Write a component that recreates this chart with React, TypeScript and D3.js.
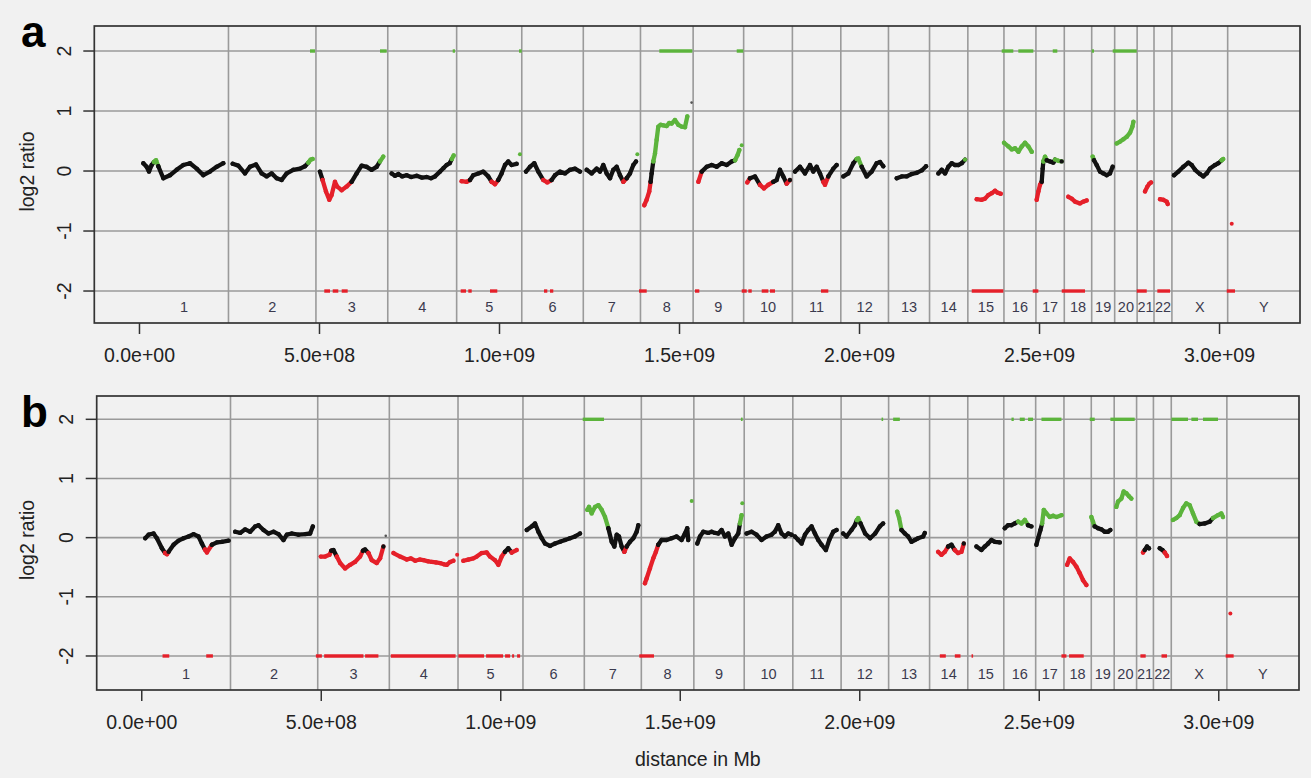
import React from 'react';
import * as d3 from 'd3';

type Pt = [number, number, string];
type Dot = [string, number, number, string];

// ---------- data ----------
const chrNames = ['1','2','3','4','5','6','7','8','9','10','11','12','13','14','15','16','17','18','19','20','21','22','X','Y'];
const chrLengths = [247.2,242.95,199.5,191.3,180.9,170.9,158.8,146.3,140.3,135.4,134.5,132.35,114.1,106.4,100.3,88.8,78.8,76.1,63.8,62.4,46.9,49.7,154.9,57.8];
const xTicks = [0, 500, 1000, 1500, 2000, 2500, 3000];
const yTicks = [-2, -1, 0, 1, 2];

// profile points: [Mb from chromosome start, log2 ratio, call k/r/g]
const profileA: Record<string, Pt[]> = {
  '1': [[10.6,0.13,'k'],[19.9,0.07,'k'],[26.4,-0.01,'k'],[33.8,0.1,'k'],[40,0.15,'g'],[46,0.18,'g'],[52.3,0.08,'k'],[66.2,-0.12,'k'],[84.7,-0.07,'k'],[103.2,0.02,'k'],[121.8,0.1,'k'],[140.3,0.13,'k'],[158.8,0.04,'k'],[177.3,-0.07,'k'],[195.8,-0.01,'k'],[214.4,0.07,'k'],[232.9,0.13,'k']],
  '2': [[11.6,0.12,'k'],[27.3,0.09,'k'],[45.8,-0.04,'k'],[59.7,0.07,'k'],[76.4,0.11,'k'],[92.1,-0.04,'k'],[106,-0.09,'k'],[119.9,-0.04,'k'],[133.8,-0.12,'k'],[147.7,-0.15,'k'],[161.6,-0.04,'k'],[180.1,0.02,'k'],[198.6,0.04,'k'],[212.5,0.08,'k'],[221.8,0.14,'g'],[228.2,0.19,'g'],[233.8,0.2,'g']],
  '3': [[11.1,-0.01,'k'],[18.5,-0.15,'r'],[27.8,-0.34,'r'],[37,-0.48,'r'],[43.5,-0.4,'r'],[52.8,-0.18,'r'],[59.3,-0.26,'r'],[71.3,-0.32,'r'],[85.2,-0.26,'r'],[99.1,-0.18,'k'],[113,-0.04,'k'],[126.9,0.09,'k'],[140.7,0.07,'k'],[154.6,0.02,'k'],[168.5,0.07,'k'],[177.8,0.16,'g'],[187,0.24,'g']],
  '4': [[10.7,-0.04,'k'],[20,-0.08,'k'],[29.3,-0.05,'k'],[40,-0.09,'k'],[52.4,-0.07,'k'],[65,-0.1,'k'],[80.2,-0.08,'k'],[95,-0.11,'k'],[107.9,-0.1,'k'],[120,-0.12,'k'],[131.1,-0.09,'k'],[145,-0.01,'k'],[155,0.05,'k'],[163.5,0.1,'k'],[172,0.13,'k'],[178,0.2,'g'],[183,0.26,'g']],
  '5': [[13.8,-0.17,'r'],[27.7,-0.18,'r'],[37,-0.15,'k'],[46.2,-0.07,'k'],[60.1,-0.04,'k'],[74,-0.01,'k'],[87.9,-0.09,'k'],[97.1,-0.18,'r'],[106.4,-0.22,'r'],[115.6,-0.15,'k'],[124.9,-0.04,'k'],[134.2,0.1,'k'],[143.4,0.16,'k'],[152.7,0.1,'k'],[166.6,0.12,'k']],
  '6': [[11.7,-0.01,'k'],[22.8,0.07,'k'],[34.8,0.13,'k'],[45.9,-0.01,'k'],[59.8,-0.15,'r'],[70.9,-0.19,'r'],[82.9,-0.15,'k'],[92.2,-0.07,'k'],[106.1,-0.01,'k'],[120,-0.04,'k'],[133.9,0.02,'k'],[147.8,0.04,'k'],[161.7,-0.01,'k']],
  '7': [[9.4,0.02,'k'],[23.2,-0.04,'k'],[37.1,0.04,'k'],[46.4,-0.01,'k'],[55.6,0.1,'k'],[64.9,-0.04,'k'],[74.2,-0.12,'k'],[83.4,0.02,'k'],[92.7,0.07,'k'],[102,-0.07,'k'],[111.2,-0.18,'r'],[120.5,-0.12,'k'],[129.7,-0.04,'k'],[139,0.1,'k'],[146.4,0.16,'k']],
  '8': [[10.6,-0.57,'r'],[17.1,-0.48,'r'],[24.5,-0.34,'r'],[28.2,-0.18,'k'],[31,-0.04,'k'],[35.6,0.16,'g'],[40.3,0.29,'g'],[44.9,0.52,'g'],[49.5,0.74,'g'],[56,0.77,'g'],[64,0.76,'g'],[72.7,0.75,'g'],[80,0.8,'g'],[86.6,0.79,'g'],[95.8,0.85,'g'],[105.1,0.77,'g'],[114.4,0.74,'g'],[123.6,0.73,'g'],[130.1,0.91,'g']],
  '9': [[14.5,-0.18,'r'],[23.8,-0.01,'k'],[37.7,0.07,'k'],[51.6,0.1,'k'],[65.5,0.07,'k'],[79.4,0.13,'k'],[93.2,0.1,'k'],[107.1,0.16,'k'],[116.4,0.18,'g'],[123.8,0.27,'g'],[128.4,0.35,'g']],
  '10': [[10.1,-0.19,'r'],[17.5,-0.12,'k'],[31.4,-0.09,'k'],[45.3,-0.23,'r'],[56.4,-0.29,'r'],[68.4,-0.23,'r'],[82.3,-0.18,'k'],[91.6,-0.15,'k'],[100.8,0.02,'k'],[110.1,-0.09,'k'],[119.4,-0.21,'r'],[128.6,-0.15,'k']],
  '11': [[7.2,-0.01,'k'],[21.1,0.07,'k'],[35,-0.04,'k'],[48.9,0.1,'k'],[58.1,-0.01,'k'],[67.4,0.07,'k'],[76.7,-0.04,'k'],[85.9,-0.18,'r'],[90.6,-0.23,'r'],[99.8,-0.09,'k'],[113.7,0.04,'k'],[123,0.1,'k']],
  '12': [[7,-0.09,'k'],[20.9,-0.04,'k'],[34.8,0.13,'k'],[44,0.2,'g'],[48.7,0.21,'g'],[57.9,0.07,'k'],[71.8,-0.09,'k'],[85.7,-0.01,'k'],[99.6,0.13,'k'],[109,0.15,'k'],[118,0.08,'k']],
  '13': [[22.9,-0.12,'k'],[36.9,-0.09,'k'],[50.7,-0.09,'k'],[64.6,-0.05,'k'],[78.5,-0.03,'k'],[92.4,0.01,'k'],[104.4,0.08,'k']],
  '14': [[24.5,-0.04,'k'],[33.8,0.02,'k'],[43.1,-0.04,'k'],[52.3,0.07,'k'],[61.6,0.13,'k'],[70.8,0.1,'k'],[80.1,0.1,'k'],[89.4,0.13,'k'],[98.6,0.19,'g']],
  '15': [[24.6,-0.47,'r'],[38.5,-0.48,'r'],[47.8,-0.46,'r'],[57,-0.4,'r'],[66.3,-0.37,'r'],[75.6,-0.33,'r'],[82.1,-0.36,'r'],[91.3,-0.38,'r']],
  '16': [[0.3,0.47,'g'],[12.3,0.41,'g'],[21.6,0.36,'g'],[30.8,0.38,'g'],[40.1,0.32,'g'],[49.4,0.41,'g'],[58.6,0.47,'g'],[67.9,0.41,'g'],[77.1,0.32,'g']],
  '17': [[2.1,-0.48,'r'],[6.8,-0.34,'r'],[11.4,-0.23,'r'],[16,-0.18,'k'],[18.8,0.04,'k'],[20.6,0.16,'g'],[25.3,0.24,'g'],[29.9,0.18,'k'],[39.1,0.16,'k'],[48.4,0.14,'k'],[53.1,0.19,'g'],[62.3,0.17,'g'],[71.6,0.16,'k']],
  '18': [[11.2,-0.43,'r'],[20.5,-0.46,'r'],[29.7,-0.51,'r'],[43.6,-0.54,'r'],[52.9,-0.51,'r'],[62.1,-0.49,'r']],
  '19': [[2.7,0.24,'g'],[6.4,0.18,'k'],[13.8,0.1,'k'],[23,-0.01,'k'],[32.3,-0.04,'k'],[41.6,-0.07,'k'],[50.8,-0.04,'k'],[58.2,0.07,'k']],
  '20': [[5.7,0.46,'g'],[15,0.49,'g'],[24.3,0.53,'g'],[33.5,0.57,'g'],[42.8,0.64,'g'],[49.3,0.74,'g'],[52,0.82,'g']],
  '21': [[21.9,-0.34,'r'],[28.4,-0.26,'r'],[34,-0.21,'r'],[38.6,-0.19,'r']],
  '22': [[16.7,-0.47,'r'],[25.9,-0.48,'r'],[35.2,-0.51,'r'],[38,-0.55,'r']],
  'X': [[5.8,-0.07,'k'],[17.9,-0.01,'k'],[31.7,0.07,'k'],[45.6,0.14,'k'],[54.9,0.1,'k'],[64.2,0.02,'k'],[78,-0.05,'k'],[87.3,-0.09,'k'],[96.6,-0.04,'k'],[105.8,0.04,'k'],[119.7,0.1,'k'],[129,0.13,'k'],[138.2,0.18,'g'],[142.5,0.2,'g']],
};
const dotsA: Dot[] = [['5',175.8,0.28,'g'],['7',150.1,0.28,'g'],['8',142,1.14,'k'],['9',134.9,0.43,'g'],['Y',11.3,-0.88,'r']];
const gainsA: [number, number][] = [[473.6,487.5],[668,686.7],[870,876.4],[1054.2,1061.7],[1443.9,1535.6],[1658.9,1677.2],[2395,2427.2],[2441.1,2482.8],[2536.7,2549.4],[2645,2651.4],[2703.3,2770]];
const lossesA: [number, number][] = [[513.3,529.2],[536.7,552.2],[561.7,578.3],[892.2,906.9],[913.3,922.8],[973.6,993.9],[1123.6,1132.8],[1140.3,1149.4],[1387.5,1408.9],[1543,1555],[1672.8,1686.7],[1691.1,1700.6],[1728.3,1746.7],[1751.4,1765.3],[1893,1913.3],[2311.7,2399.4],[2481.1,2496.7],[2561.7,2626.4],[2770,2797.8],[2827.2,2862.5],[3020,3043]];

const profileB: Record<string, Pt[]> = {
  '1': [[9.7,-0.01,'k'],[19,0.05,'k'],[32.9,0.07,'k'],[42.2,-0.01,'k'],[56.1,-0.18,'k'],[65,-0.26,'r'],[70.1,-0.28,'r'],[74.7,-0.24,'k'],[88.6,-0.12,'k'],[102.5,-0.05,'k'],[116.5,-0.01,'k'],[130.4,0.02,'k'],[144.3,0.06,'k'],[158.2,0.02,'k'],[167.5,-0.1,'k'],[176,-0.2,'r'],[181.4,-0.25,'r'],[195.4,-0.12,'k'],[209.3,-0.08,'k'],[223.2,-0.07,'k'],[241.7,-0.05,'k']],
  '2': [[13.1,0.1,'k'],[27,0.08,'k'],[40.9,0.14,'k'],[54.8,0.1,'k'],[68.7,0.19,'k'],[78,0.21,'k'],[91.9,0.13,'k'],[105.8,0.07,'k'],[119.8,0.1,'k'],[133.7,0.06,'k'],[147.6,-0.04,'k'],[156.9,0.05,'k'],[170.8,0.07,'k'],[189.3,0.05,'k'],[207.9,0.06,'k'],[221.8,0.07,'k'],[229.3,0.19,'k']],
  '3': [[8.5,-0.32,'r'],[20.6,-0.32,'r'],[32.7,-0.29,'r'],[38,-0.22,'k'],[43.8,-0.21,'k'],[53.1,-0.32,'r'],[62.4,-0.43,'r'],[76.3,-0.52,'r'],[90.2,-0.46,'r'],[104.1,-0.41,'r'],[118,-0.32,'r'],[126,-0.22,'k'],[131.9,-0.2,'k'],[141.2,-0.26,'r'],[150.5,-0.38,'r'],[164.4,-0.43,'r'],[173.7,-0.35,'r'],[183,-0.15,'k']],
  '4': [[11.5,-0.26,'r'],[30.1,-0.32,'r'],[48.6,-0.37,'r'],[60,-0.35,'r'],[71.9,-0.39,'r'],[85,-0.37,'r'],[95.1,-0.38,'r'],[108,-0.4,'r'],[118.3,-0.41,'r'],[130,-0.42,'r'],[141.5,-0.43,'r'],[152,-0.45,'r'],[160,-0.46,'r'],[169.3,-0.41,'r'],[178.4,-0.39,'r']],
  '5': [[14.8,-0.39,'r'],[28.8,-0.37,'r'],[42.7,-0.35,'r'],[52,-0.32,'r'],[65.9,-0.26,'r'],[79.8,-0.25,'r'],[89.1,-0.32,'r'],[103,-0.38,'r'],[112.3,-0.46,'r'],[121.6,-0.32,'r'],[130.8,-0.24,'k'],[140.1,-0.18,'k'],[149.4,-0.25,'r'],[163.3,-0.21,'r']],
  '6': [[10.5,0.13,'k'],[24.4,0.19,'k'],[33.7,0.24,'k'],[43,0.1,'k'],[52.3,-0.01,'k'],[61.5,-0.1,'k'],[75.4,-0.14,'k'],[89.4,-0.1,'k'],[103.3,-0.07,'k'],[117.2,-0.04,'k'],[131.1,-0.01,'k'],[145,0.02,'k'],[159,0.07,'k']],
  '7': [[8.4,0.47,'g'],[13.1,0.52,'g'],[20.5,0.41,'g'],[29.8,0.52,'g'],[39.1,0.55,'g'],[48.4,0.47,'g'],[57.6,0.35,'g'],[66.9,0.16,'k'],[76.2,-0.07,'k'],[83.7,-0.15,'k'],[90.2,0.05,'k'],[96.6,0.02,'k'],[104,-0.15,'k'],[111.4,-0.24,'r'],[117.9,-0.15,'k'],[127.2,-0.07,'k'],[136.5,-0.01,'k'],[145.8,0.1,'k'],[150.4,0.21,'k']],
  '8': [[10,-0.77,'r'],[14.7,-0.69,'r'],[24,-0.52,'r'],[33.2,-0.35,'r'],[40.6,-0.24,'r'],[47.1,-0.12,'k'],[56.4,-0.04,'k'],[70.3,-0.04,'k'],[84.3,-0.01,'k'],[98.2,0.02,'k'],[112.1,-0.04,'k'],[121.4,0.07,'k'],[127.9,0.16,'k'],[130.7,-0.04,'k']],
  '9': [[9.6,-0.1,'k'],[17,0.02,'k'],[26.3,0.1,'k'],[40.2,0.08,'k'],[49.5,0.1,'k'],[58.8,0.08,'k'],[68,0.07,'k'],[77.3,0.13,'k'],[86.6,0.02,'k'],[95.9,0.07,'k'],[105.2,-0.12,'k'],[114.5,-0.01,'k'],[123.7,0.07,'k'],[128.4,0.24,'g'],[133,0.38,'g']],
  '10': [[6.6,0.07,'k'],[20.5,0.1,'k'],[34.4,0.05,'k'],[48.3,-0.04,'k'],[62.2,0.02,'k'],[76.1,0.05,'k'],[85.4,0.1,'k'],[94.7,0.21,'k'],[104,0.07,'k'],[113.3,0.02,'k'],[122.6,0.07,'k'],[131.9,0.05,'k']],
  '11': [[5.8,0.02,'k'],[15.1,-0.04,'k'],[24.4,-0.1,'k'],[33.7,0.05,'k'],[43,0.13,'k'],[52.2,0.19,'k'],[61.5,0.07,'k'],[70.8,-0.04,'k'],[80.1,-0.12,'k'],[92.1,-0.21,'k'],[101.4,-0.04,'k'],[112.6,0.1,'k'],[121.9,0.13,'k']],
  '12': [[5.7,0.07,'k'],[15,0.02,'k'],[28.9,0.13,'k'],[38.2,0.21,'k'],[44,0.3,'g'],[47.5,0.33,'g'],[54,0.24,'k'],[67,0.07,'k'],[80.9,-0.01,'k'],[94.8,0.07,'k'],[107.8,0.19,'k'],[117.1,0.24,'k']],
  '13': [[23.8,0.44,'g'],[29.3,0.33,'g'],[35.8,0.13,'k'],[45.1,0.07,'k'],[54.4,0.02,'k'],[63.7,-0.07,'k'],[72.9,-0.04,'k'],[82.2,-0.01,'k'],[96.1,0.02,'k'],[100.8,0.08,'k']],
  '14': [[23.8,-0.24,'r'],[33.1,-0.29,'r'],[42.4,-0.24,'r'],[51.6,-0.15,'k'],[60.9,-0.12,'k'],[70.2,-0.21,'r'],[79.5,-0.26,'r'],[88.8,-0.24,'r'],[95.3,-0.1,'k']],
  '15': [[24.1,-0.15,'k'],[38,-0.21,'k'],[47.3,-0.15,'k'],[56.6,-0.1,'k'],[65.9,-0.04,'k'],[75.2,-0.07,'k'],[89.1,-0.08,'k']],
  '16': [[2.8,0.16,'k'],[12.1,0.21,'k'],[21.3,0.21,'k'],[30.6,0.24,'k'],[39.9,0.27,'g'],[49.2,0.24,'g'],[58.5,0.3,'g'],[67.7,0.21,'k'],[77,0.19,'k']],
  '17': [[2.1,-0.12,'k'],[6.8,-0.01,'k'],[13.3,0.13,'k'],[17.9,0.24,'g'],[22.6,0.47,'g'],[30,0.41,'g'],[39.3,0.35,'g'],[48.6,0.37,'g'],[57.9,0.35,'g'],[71.8,0.38,'g']],
  '18': [[8.7,-0.46,'r'],[16.1,-0.35,'r'],[25.4,-0.41,'r'],[34.7,-0.49,'r'],[44,-0.6,'r'],[53.3,-0.72,'r'],[62.5,-0.8,'r']],
  '19': [[0.2,0.35,'g'],[4.8,0.27,'g'],[9.5,0.19,'k'],[18.7,0.16,'k'],[28,0.14,'k'],[37.3,0.1,'k'],[46.6,0.1,'k'],[53.1,0.13,'k']],
  '20': [[6,0.52,'g'],[10.7,0.61,'g'],[20,0.66,'g'],[26.4,0.78,'g'],[33.9,0.75,'g'],[41.3,0.7,'g'],[47.8,0.66,'g']],
  '21': [[17.9,-0.25,'r'],[22.6,-0.21,'k'],[29.1,-0.15,'k'],[34.6,-0.18,'k']],
  '22': [[17.5,-0.18,'k'],[25,-0.21,'k'],[31.4,-0.25,'r'],[37.9,-0.31,'r']],
  'X': [[4.8,0.3,'g'],[14.1,0.33,'g'],[23.4,0.38,'g'],[32.7,0.5,'g'],[42,0.58,'g'],[51.2,0.55,'g'],[60.5,0.41,'g'],[69.8,0.27,'g'],[79.1,0.23,'k'],[93,0.24,'k'],[106.9,0.27,'k'],[116.2,0.33,'g'],[130.1,0.38,'g'],[139.4,0.41,'g'],[144,0.35,'g']],
};
const dotsB: Dot[] = [['3',189.5,0.03,'k'],['4',188.8,-0.29,'r'],['8',140.2,0.62,'g'],['9',134.9,0.58,'g'],['Y',9.7,-1.28,'r']];
const gainsB: [number, number][] = [[1228.3,1287.6],[1669,1673.7],[2060.7,2065.1],[2093,2111.6],[2422.6,2429],[2445.7,2459.6],[2468.8,2482.7],[2506.1,2561.8],[2640.6,2654.5],[2698.2,2765.9],[2868.1,2914.3],[2923.7,2942.1],[2956,2997.8]];
const lossesB: [number, number][] = [[57.9,76.6],[179.6,198.2],[485,501.7],[508.1,617.5],[622.1,659.2],[693.8,874.2],[882,953.5],[959.1,1006.4],[1012,1026],[1031.6,1037.2],[1045.5,1053.9],[1385.9,1426.8],[2223,2239.7],[2264.8,2280.6],[2311.3,2315.7],[2561.8,2575.7],[2583,2623.9],[2781.7,2796.5],[2840.5,2855.8],[3019.2,3041.5]];

// ---------- layout / style ----------
const W = 1311, H = 778;
const FONT = "'Liberation Sans', Arial, Helvetica, sans-serif";
const COL: Record<string, string> = { k: '#111111', r: '#e5202a', g: '#5cb43c' };
const GRID = '#9a9a9a';
const X_DOMAIN: [number, number] = [-125.5, 3223.5];

const chrStarts: number[] = [];
chrLengths.reduce((acc, l, i) => { chrStarts[i] = acc; return acc + l; }, 0);
const chrIndex = (c: string) => chrNames.indexOf(c);

function fmtExp(mb: number) {
  const s = (mb * 1e6).toExponential(1);
  const [m, e] = s.split('e');
  const sign = e[0] === '-' ? '-' : '+';
  const digits = e.replace(/[+-]/, '').padStart(2, '0');
  return `${m}e${sign}${digits}`;
}

function runs(pts: Pt[]) {
  const out: { c: string; pts: Pt[] }[] = [];
  let cur: { c: string; pts: Pt[] } | null = null;
  for (let i = 0; i < pts.length - 1; i++) {
    const c = pts[i][2];
    if (!cur || cur.c !== c) { cur = { c, pts: [pts[i]] }; out.push(cur); }
    cur.pts.push(pts[i + 1]);
  }
  return out;
}

interface PanelCfg {
  letter: string; l: number; r: number; t: number; b: number; yDomain: [number, number];
  profiles: Record<string, Pt[]>; dots: Dot[]; gains: [number, number][]; losses: [number, number][];
  letterY: number; showXTitle: boolean;
}

const panels: PanelCfg[] = [
  { letter: 'a', l: 94.3, r: 1300, t: 26, b: 323, yDomain: [-2.533, 2.417], profiles: profileA, dots: dotsA, gains: gainsA, losses: lossesA, letterY: 47, showXTitle: false },
  { letter: 'b', l: 96.7, r: 1299, t: 396, b: 690, yDomain: [-2.575, 2.394], profiles: profileB, dots: dotsB, gains: gainsB, losses: lossesB, letterY: 427, showXTitle: true },
];

function Panel({ p }: { p: PanelCfg }) {
  const x = d3.scaleLinear().domain(X_DOMAIN).range([p.l, p.r]);
  const y = d3.scaleLinear().domain(p.yDomain).range([p.b, p.t]);
  const line = d3.line<Pt>().x(d => d[0]).y(d => y(d[1]));
  const midY = (p.t + p.b) / 2;
  return (
    <g>
      {yTicks.map(v => (
        <line key={'h' + v} x1={p.l} x2={p.r} y1={y(v)} y2={y(v)} stroke={GRID} strokeWidth={1.6} />
      ))}
      {chrStarts.slice(1).map((s, i) => (
        <line key={'v' + i} x1={x(s)} x2={x(s)} y1={p.t} y2={p.b} stroke={GRID} strokeWidth={1.6} />
      ))}
      {chrNames.map((c, i) => {
        const s = chrStarts[i];
        const e = i === chrNames.length - 1 ? X_DOMAIN[1] : s + chrLengths[i];
        return (
          <text key={'cl' + c} x={x((s + e) / 2)} y={p.b - 11.5} textAnchor="middle" fontSize={14.5} fill="#3b3a4e" fontFamily={FONT}>{c}</text>
        );
      })}
      {p.gains.map((g, i) => (
        <line key={'g' + i} x1={x(g[0])} x2={x(g[1])} y1={y(2)} y2={y(2)} stroke={COL.g} strokeWidth={3.4} />
      ))}
      {p.losses.map((g, i) => (
        <line key={'l' + i} x1={x(g[0])} x2={x(g[1])} y1={y(-2)} y2={y(-2)} stroke={COL.r} strokeWidth={3.4} />
      ))}
      {Object.entries(p.profiles).map(([c, pts]) => {
        const s = chrStarts[chrIndex(c)];
        const abs: Pt[] = pts.map(d => [x(s + d[0]), d[1], d[2]]);
        return (
          <g key={'p' + c}>
            {runs(abs).map((r, i) => (
              <path key={i} d={line(r.pts) || ''} fill="none" stroke={COL[r.c]} strokeWidth={4.3} strokeLinejoin="round" strokeLinecap="round" />
            ))}
            {abs.map((d, i) => (
              <circle key={'c' + i} cx={d[0]} cy={y(d[1])} r={2.2} fill={COL[d[2]]} />
            ))}
          </g>
        );
      })}
      {p.dots.map((d, i) => (
        <circle key={'d' + i} cx={x(chrStarts[chrIndex(d[0])] + d[1])} cy={y(d[2])} r={d[3] === 'k' ? 1.3 : 2} fill={d[3] === 'k' ? '#555' : COL[d[3]]} />
      ))}
      <rect x={p.l} y={p.t} width={p.r - p.l} height={p.b - p.t} fill="none" stroke="#333" strokeWidth={1.7} />
      {yTicks.map(v => (
        <g key={'yt' + v}>
          <line x1={p.l - 11} x2={p.l} y1={y(v)} y2={y(v)} stroke="#333" strokeWidth={1.5} />
          <text transform={`translate(${p.l - 23.5},${y(v)}) rotate(-90)`} textAnchor="middle" fontSize={19.5} fill="#222" fontFamily={FONT}>{String(v)}</text>
        </g>
      ))}
      <text transform={`translate(34,${midY - 3}) rotate(-90)`} textAnchor="middle" fontSize={19.5} fill="#222" fontFamily={FONT}>log2 ratio</text>
      {xTicks.map(v => (
        <g key={'xt' + v}>
          <line x1={x(v)} x2={x(v)} y1={p.b} y2={p.b + 11} stroke="#333" strokeWidth={1.5} />
          <text x={x(v)} y={p.b + 39} textAnchor="middle" fontSize={19.5} fill="#222" fontFamily={FONT}>{fmtExp(v)}</text>
        </g>
      ))}
      {p.showXTitle && (
        <text x={(p.l + p.r) / 2} y={766} textAnchor="middle" fontSize={19.5} fill="#222" fontFamily={FONT}>distance in Mb</text>
      )}
      <text x={21} y={p.letterY} fontSize={44} fontWeight="bold" fill="#000" fontFamily={FONT}>{p.letter}</text>
    </g>
  );
}

export default function App() {
  return (
    <svg width={W} height={H} style={{ position: 'absolute', left: 0, top: 0, display: 'block' }}>
      <rect x={0} y={0} width={W} height={H} fill="#f1f1f1" />
      {panels.map(p => <Panel key={p.letter} p={p} />)}
    </svg>
  );
}
